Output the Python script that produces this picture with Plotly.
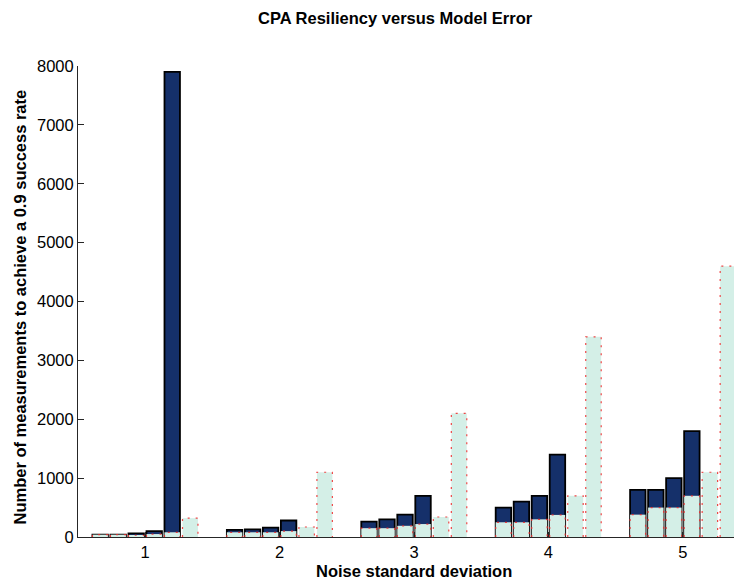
import plotly.graph_objects as go

noise_levels = [1, 2, 3, 4, 5]
tick_labels = ["1", "2", "3", "4", "5"]

# Dark (navy) bars, one list per bar position within each group
dark_1 = [40, 120, 260, 500, 800]
dark_2 = [40, 130, 300, 600, 800]
dark_3 = [60, 160, 380, 700, 1000]
dark_4 = [100, 280, 700, 1400, 1800]
dark_5 = [7900, None, None, None, None]
dark_6 = [None, None, None, None, None]

# Light (mint) bars overlaid, one list per bar position
light_1 = [40, 80, 150, 250, 380]
light_2 = [40, 80, 150, 250, 500]
light_3 = [30, 80, 190, 300, 500]
light_4 = [50, 100, 220, 375, 700]
light_5 = [80, 170, 340, 700, 1100]
light_6 = [320, 1100, 2100, 3400, 4600]

dark_series = [dark_1, dark_2, dark_3, dark_4, dark_5, dark_6]
light_series = [light_1, light_2, light_3, light_4, light_5, light_6]

step = 0.134
bar_w = 0.115
n = len(dark_series)
offsets = [(i - (n - 1) / 2) * step for i in range(n)]

DARK = "#15306a"
LIGHT = "#d4efe7"

fig = go.Figure()

for i, s in enumerate(dark_series):
    fig.add_trace(go.Bar(
        x=[g + offsets[i] for g in noise_levels], y=s, width=bar_w,
        marker=dict(color=DARK, line=dict(color="#000000", width=1.8)),
        showlegend=False, hoverinfo="y"))

for i, s in enumerate(light_series):
    fig.add_trace(go.Bar(
        x=[g + offsets[i] for g in noise_levels], y=s, width=bar_w,
        marker=dict(color=LIGHT, line=dict(width=0)),
        showlegend=False, hoverinfo="y"))

# dotted red outlines of the light bars, derived from the data
ox, oy = [], []
for i, s in enumerate(light_series):
    for g, v in zip(noise_levels, s):
        if v is None:
            continue
        x0 = g + offsets[i] - bar_w / 2
        x1 = g + offsets[i] + bar_w / 2
        ox += [x0, x0, x1, x1, None]
        oy += [0, v, v, 0, None]
fig.add_trace(go.Scatter(x=ox, y=oy, mode="lines",
                         line=dict(color="rgba(240,40,40,0.85)", width=1.2, dash="2px,6px"),
                         showlegend=False, hoverinfo="skip"))

FONT = "Liberation Sans, Arial, Helvetica, sans-serif"

# the page body adds an 8px offset; the figure is sized so it ends at the window edge
W, H = 734, 574
L, T, B = 70, 58, 45

fig.update_layout(
    width=W, height=H,
    barmode="overlay",
    plot_bgcolor="white", paper_bgcolor="white",
    margin=dict(l=L, r=0, t=T, b=B, pad=0),
    font=dict(family=FONT, size=16, color="#000000"),
    xaxis=dict(range=[0.5, 5.44], tickvals=noise_levels, ticktext=tick_labels,
               showgrid=False, zeroline=False, showline=True, linecolor="#262626",
               linewidth=1, ticks="inside", ticklen=5, tickcolor="#262626",
               tickfont=dict(size=16.5)),
    yaxis=dict(range=[0, 8000], tickvals=list(range(0, 8001, 1000)),
               showgrid=False, zeroline=False, showline=True, linecolor="#262626",
               linewidth=1, ticks="inside", ticklen=6, tickcolor="#262626",
               tickfont=dict(size=16.5)),
    annotations=[
        dict(text="<b>CPA Resiliency versus Model Error</b>", xref="paper", yref="paper",
             x=(387 - L) / (W - L), y=1, yshift=T - 10, xanchor="center", yanchor="middle",
             showarrow=False, font=dict(size=16.5)),
        dict(text="<b>Noise standard deviation</b>", xref="paper", yref="paper",
             x=(406 - L) / (W - L), y=0, yshift=-34, xanchor="center", yanchor="middle",
             showarrow=False, font=dict(size=16.5)),
        dict(text="<b>Number of measurements to achieve a 0.9 success rate</b>",
             xref="paper", yref="paper", x=0, xshift=-(L - 11), y=0.5, yshift=-6,
             textangle=-90, xanchor="center", yanchor="middle", showarrow=False,
             font=dict(size=16.5)),
    ],
)

fig.write_html("out.html")
